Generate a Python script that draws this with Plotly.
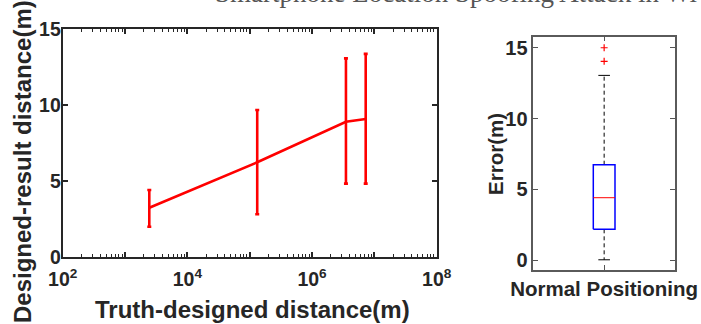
import plotly.graph_objects as go

# ---- Left panel data (error-bar line) ----
truth_dist = [2450, 1.32e5, 3.5e6, 7.26e6]
result_mean = [3.26, 6.25, 8.92, 9.10]
result_upper = [4.43, 9.69, 13.09, 13.38]
result_lower = [2.01, 2.83, 4.85, 4.85]

x_tick_vals = [1e2, 1e3, 1e4, 1e5, 1e6, 1e7, 1e8]
x_tick_text = ["10<sup>2</sup>", "", "10<sup>4</sup>", "", "10<sup>6</sup>", "", "10<sup>8</sup>"]
y_tick_vals = [0, 5, 10, 15]

# ---- Right panel data (box plot stats) ----
box_category = "Normal Positioning"
box_q1 = 2.19
box_median = 4.42
box_q3 = 6.75
box_low_whisker = 0.04
box_high_whisker = 13.05
box_outliers = [14.04, 15.0]
box_y_ticks = [0, 5, 10, 15]

RED = "#FF0000"
AX = "#262626"
FONT = "Liberation Sans, Arial, Helvetica, sans-serif"

fig = go.Figure()

err_plus = [u - m for u, m in zip(result_upper, result_mean)]
err_minus = [m - l for m, l in zip(result_mean, result_lower)]

fig.add_trace(go.Scatter(
    x=truth_dist, y=result_mean, mode="lines",
    line=dict(color=RED, width=2.6),
    error_y=dict(type="data", symmetric=False, array=err_plus, arrayminus=err_minus,
                 color=RED, thickness=2.6, width=2),
    xaxis="x", yaxis="y", hoverinfo="skip",
))

# box plot drawn from stats
bx = 1.0
half_w = 0.0766
cap_w = 0.041
fig.add_trace(go.Scatter(
    x=[bx, bx, None, bx, bx],
    y=[box_q3, box_high_whisker, None, box_q1, box_low_whisker],
    mode="lines", line=dict(color="black", width=1, dash="4px,3px"),
    xaxis="x2", yaxis="y2", hoverinfo="skip"))
fig.add_trace(go.Scatter(
    x=[bx - cap_w, bx + cap_w, None, bx - cap_w, bx + cap_w],
    y=[box_high_whisker, box_high_whisker, None, box_low_whisker, box_low_whisker],
    mode="lines", line=dict(color="black", width=1),
    xaxis="x2", yaxis="y2", hoverinfo="skip"))
fig.add_trace(go.Scatter(
    x=[bx - half_w, bx + half_w, bx + half_w, bx - half_w, bx - half_w],
    y=[box_q1, box_q1, box_q3, box_q3, box_q1],
    mode="lines", line=dict(color="#0000FF", width=1.5),
    xaxis="x2", yaxis="y2", hoverinfo="skip"))
fig.add_trace(go.Scatter(
    x=[bx - half_w, bx + half_w], y=[box_median, box_median],
    mode="lines", line=dict(color=RED, width=1),
    xaxis="x2", yaxis="y2", hoverinfo="skip"))
fig.add_trace(go.Scatter(
    x=[bx] * len(box_outliers), y=box_outliers, mode="markers",
    marker=dict(symbol="cross-thin", size=5, line=dict(color=RED, width=1.2)),
    xaxis="x2", yaxis="y2", hoverinfo="skip"))

W, H = 701, 324
tickfont = dict(family=FONT, size=19.5, color=AX, weight="bold")

fig.update_layout(
    width=W, height=H, margin=dict(l=0, r=0, t=0, b=0, pad=0),
    paper_bgcolor="white", plot_bgcolor="white", showlegend=False,
    xaxis=dict(
        type="log", range=[2, 8], domain=[62.7 / W, 436.7 / W], anchor="y",
        automargin=False,
        tickvals=x_tick_vals, ticktext=x_tick_text, ticks="inside", ticklen=5,
        tickwidth=1.5, tickcolor=AX, showline=True, linecolor=AX, linewidth=2,
        mirror="allticks", showgrid=False, zeroline=False, tickfont=tickfont,
        ticklabelstandoff=3,
        minor=dict(ticks="inside", ticklen=3, tickwidth=1, tickcolor=AX,
                   tickvals=[k * 10 ** d for d in range(2, 8) for k in range(2, 10)],
                   showgrid=False),
    ),
    yaxis=dict(
        range=[0, 15], domain=[(H - 257.3) / H, (H - 29.3) / H], anchor="x",
        automargin=False,
        tickvals=y_tick_vals, ticks="inside", ticklen=5, tickwidth=1.5, tickcolor=AX,
        showline=True, linecolor=AX, linewidth=2, mirror="allticks",
        showgrid=False, zeroline=False, tickfont=tickfont, ticklabelstandoff=-4,
    ),
    xaxis2=dict(
        range=[0.5, 1.5], domain=[533.3 / W, 675 / W], anchor="y2",
        automargin=False,
        tickvals=[1], ticktext=[box_category], ticks="inside", ticklen=5,
        tickwidth=1, tickcolor="#555555", showline=True, linecolor="#5a5a5a",
        linewidth=1.5, mirror="allticks", showgrid=False, zeroline=False,
        tickfont=dict(family=FONT, size=20.5, color=AX, weight="bold"),
    ),
    yaxis2=dict(
        range=[-0.68, 15.78], domain=[(H - 270) / H, (H - 36.7) / H], anchor="x2",
        automargin=False,
        tickvals=box_y_ticks, ticks="inside", ticklen=5, tickwidth=1,
        tickcolor="#555555", showline=True, linecolor="#5a5a5a", linewidth=1.5,
        mirror="allticks", showgrid=False, zeroline=False,
        tickfont=dict(family=FONT, size=20, color=AX, weight="bold"),
    ),
)

title_font = dict(family=FONT, size=24, color=AX, weight="bold")
fig.add_annotation(text="Truth-designed distance(m)", xref="paper", yref="paper",
                   x=252 / W, y=1 - 309 / H, showarrow=False, font=title_font,
                   xanchor="center", yanchor="middle")
fig.add_annotation(text="Designed-result distance(m)", xref="paper", yref="paper",
                   x=22 / W, y=1 - 162 / H, showarrow=False, font=title_font,
                   textangle=-90, xanchor="center", yanchor="middle")
fig.add_annotation(text="Error(m)", xref="paper", yref="paper",
                   x=495 / W, y=1 - 154 / H, showarrow=False,
                   font=dict(family=FONT, size=20.5, color=AX, weight="bold"),
                   textangle=-90, xanchor="center", yanchor="middle")
# cropped running header at top of the page
fig.add_annotation(text="Smartphone Location Spoofing Attack in Wi-Fi Networks",
                   xref="paper", yref="paper", x=213 / W, y=1 - 10 / H,
                   showarrow=False, xanchor="left", yanchor="bottom",
                   font=dict(family="Liberation Serif, DejaVu Serif, serif", size=27,
                             color="#555555"))

fig.write_html("out.html", config={"displayModeBar": False},
               post_script="document.body.style.margin='0px';"
                           "document.body.style.overflow='hidden';")
